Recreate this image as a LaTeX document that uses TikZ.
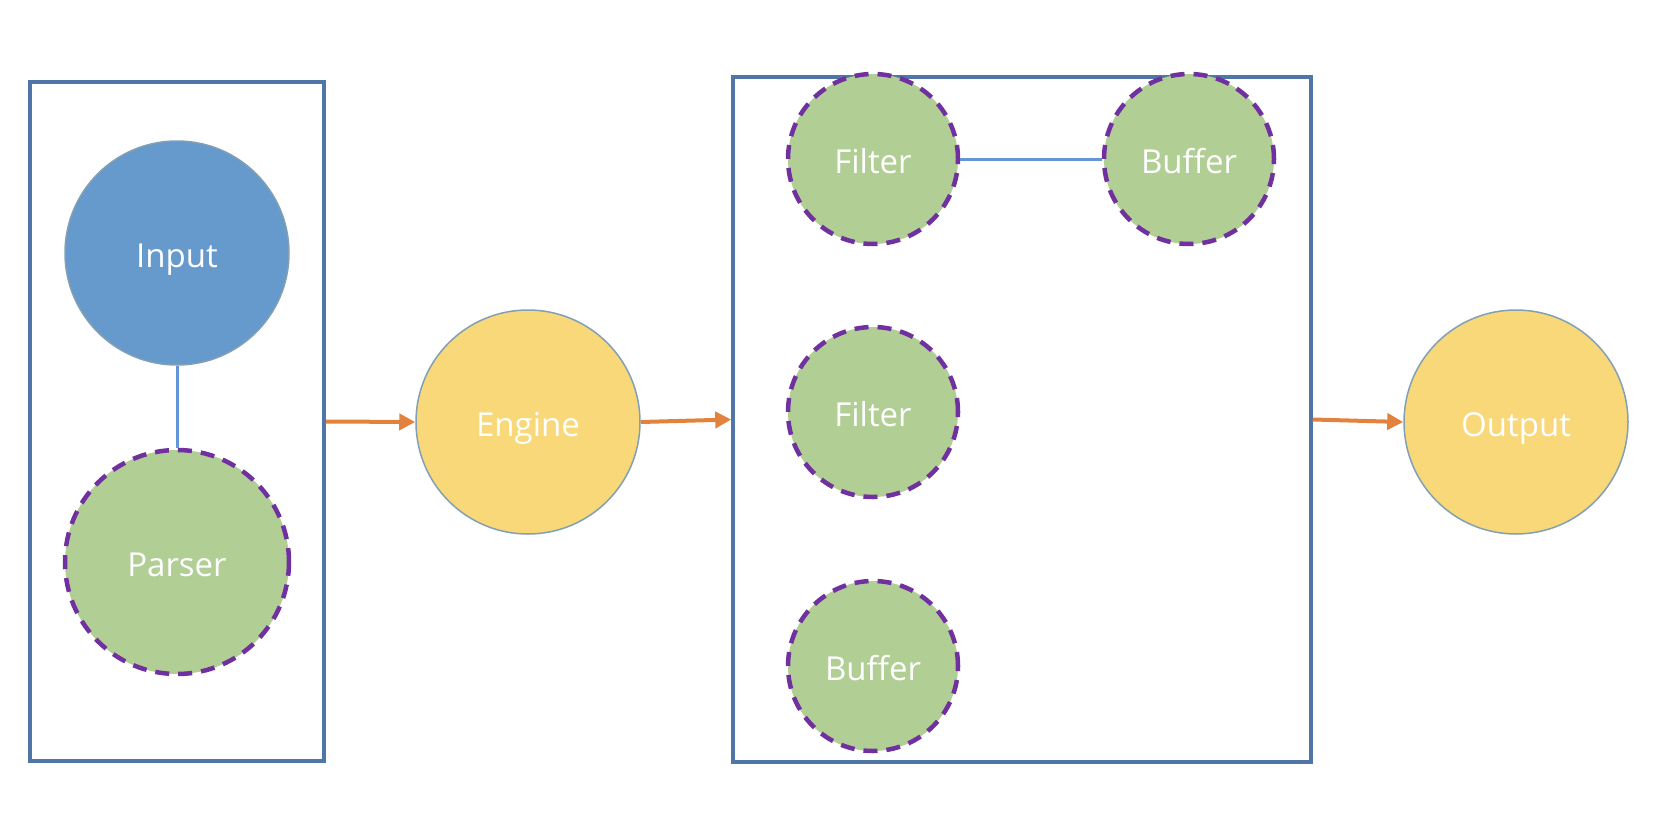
\documentclass[tikz,border=0pt]{standalone}
\usepackage{fontspec}
\setmainfont{Open Sans}
\usetikzlibrary{arrows.meta}
\definecolor{inblue}{RGB}{102,153,204}
\definecolor{grn}{RGB}{177,206,148}
\definecolor{ylw}{RGB}{248,216,120}
\definecolor{purp}{RGB}{112,48,160}
\definecolor{boxblue}{RGB}{80,118,165}
\definecolor{orng}{RGB}{226,130,60}
\definecolor{rim}{RGB}{130,160,180}
\definecolor{linkblue}{RGB}{100,150,215}
\tikzset{
  lbl/.style={text=white, font=\fontsize{33}{38}\selectfont, text depth=0pt, text height=28pt},
  bignode/.style={circle, minimum size=224pt, inner sep=0pt, draw=rim, line width=1.5pt, lbl},
  smallnode/.style={circle, minimum size=170pt, inner sep=0pt, fill=grn, draw=purp, line width=4.5pt, dash pattern=on 14pt off 9pt, lbl},
  frame/.style={rectangle, draw=boxblue, line width=3.5pt, inner sep=0pt},
  arr/.style={draw=orng, line width=4pt, -{Triangle[length=16pt,width=16pt]}},
  link/.style={draw=linkblue, line width=3pt}
}
\begin{document}
\begin{tikzpicture}[x=1pt,y=-1pt]
\useasboundingbox (0,0) rectangle (1678,814);
\node[frame, minimum width=294pt, minimum height=679pt] (lbox) at (177,421.5) {};
\node[frame, minimum width=578pt, minimum height=685pt] (mbox) at (1022,419.5) {};
\node[bignode, fill=inblue] (input) at (177,253) {Input};
\node[smallnode, minimum size=224pt] (parser) at (177,562) {Parser};
\node[bignode, fill=ylw] (engine) at (528,422) {Engine};
\node[bignode, fill=ylw] (output) at (1516,422) {Output};
\node[smallnode] (filterA) at (873,159) {Filter};
\node[smallnode] (bufferA) at (1189,159) {Buffer};
\node[smallnode] (filterB) at (873,412) {Filter};
\node[smallnode] (bufferB) at (873,666) {Buffer};
\draw[link] (input) -- (parser);
\draw[link] (filterA) -- (bufferA);
\draw[arr] (lbox.east) -- (engine.west);
\draw[arr] (engine.east) -- (mbox.west);
\draw[arr] (mbox.east) -- (output.west);
\end{tikzpicture}
\end{document}
